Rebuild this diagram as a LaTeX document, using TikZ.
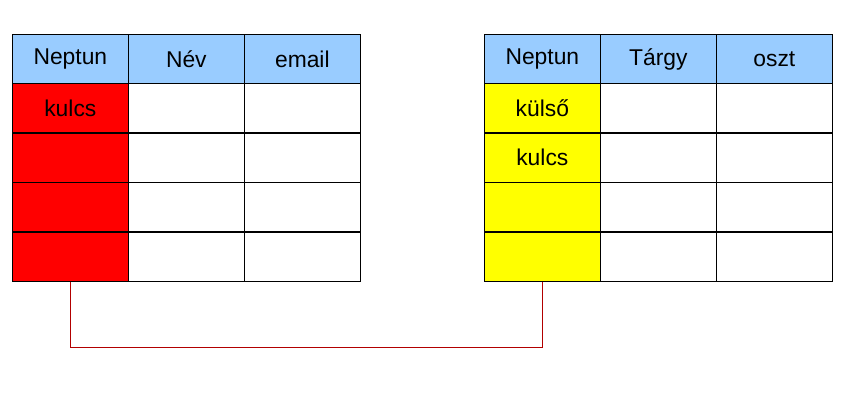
\documentclass[tikz,border=0pt]{standalone}
\usepackage{fontspec}
\setmainfont{Liberation Sans}
\usetikzlibrary{positioning}
\definecolor{headblue}{RGB}{153,204,255}
\definecolor{keyred}{RGB}{255,0,0}
\definecolor{keyyellow}{RGB}{255,255,0}
\begin{document}
\begin{tikzpicture}[x=0.02cm, y=-0.02cm,
    cell/.style={draw, minimum width=2.32cm, minimum height=0.99cm, inner sep=0pt, font=\fontsize{13}{15}\selectfont, anchor=north west},
    head/.style={cell, fill=headblue},
    link/.style={draw=red!70!black, line width=0.5pt},
]
\useasboundingbox (0,0) rectangle (868,410);

% Left table
\foreach \t [count=\c] in {Neptun,Név,email}
    \node[head] (lh\c) at ({12+116*(\c-1)},34) {\t};
\foreach \r in {1,...,4}{
    \node[cell, fill=keyred] (l\r1) at (12,{83+49.5*(\r-1)}) {\ifnum\r=1 kulcs\fi};
    \foreach \c in {2,3}
        \node[cell] (l\r\c) at ({12+116*(\c-1)},{83+49.5*(\r-1)}) {};
}

% Right table
\foreach \t [count=\c] in {Neptun,Tárgy,oszt}
    \node[head] (rh\c) at ({484+116*(\c-1)},34) {\t};
\foreach \r in {1,...,4}{
    \node[cell, fill=keyyellow] (r\r1) at (484,{83+49.5*(\r-1)}) {\ifcase\r\or külső\or kulcs\fi};
    \foreach \c in {2,3}
        \node[cell] (r\r\c) at ({484+116*(\c-1)},{83+49.5*(\r-1)}) {};
}

% Connector
\draw[link] (l41.south) -- ++(0,66) coordinate (turn) -| (r41.south);
\end{tikzpicture}
\end{document}
